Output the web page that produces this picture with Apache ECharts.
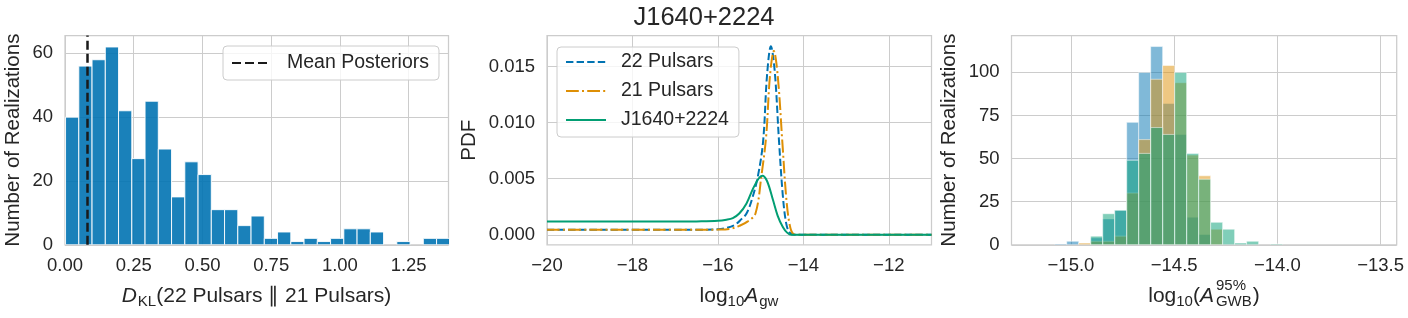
<!DOCTYPE html>
<html><head><meta charset="utf-8">
<script src="https://cdn.jsdelivr.net/npm/echarts@6/dist/echarts.min.js"></script>
<style>html,body{margin:0;padding:0;background:#fff}#c{width:1408px;height:318px}</style>
</head><body><div id="c"></div>
<script>
// ---------- Left panel: KL divergence histogram ----------
const klBinStart = 0.002;
const klBinWidth = 0.0482;
const klCounts = [40,56,58,62,42,27,45,30,15,26,22,11,11,6,9,2,4,1,2,1,2,5,5,4,0,1,0,2,2];
const meanPosterior = 0.08;
const klXTicks = [0, 0.25, 0.5, 0.75, 1.0, 1.25];
const klYTicks = [0, 20, 40, 60];

// ---------- Middle panel: PDFs ----------
const pdf22 = [[-20,0.00045],[-19,0.00045],[-18,0.00045],[-17,0.00045],[-16.5,0.00046],[-16,0.0005],[-15.8,0.00062],[-15.6,0.0009],[-15.45,0.0014],[-15.33,0.0019],[-15.2,0.0032],[-15.06,0.0053],[-14.94,0.0084],[-14.85,0.0142],[-14.76,0.0168],[-14.67,0.0146],[-14.57,0.0084],[-14.48,0.0035],[-14.4,0.001],[-14.32,0.0002],[-14.2,0],[-14,0],[-13.5,0],[-13,0],[-12.5,0],[-12,0],[-11.5,0],[-11,0]];
const pdf21 = [[-20,0.00045],[-19,0.00045],[-18,0.00045],[-17,0.00045],[-16.5,0.00045],[-16,0.00047],[-15.7,0.00055],[-15.5,0.0008],[-15.3,0.0012],[-15.12,0.0019],[-14.98,0.0053],[-14.87,0.0088],[-14.78,0.0142],[-14.69,0.01637],[-14.6,0.0142],[-14.49,0.0082],[-14.4,0.0033],[-14.32,0.0009],[-14.24,0.0001],[-14.1,0],[-13.5,0],[-13,0],[-12.5,0],[-12,0],[-11.5,0],[-11,0]];
const pdfJ = [[-20,0.00118],[-19,0.00118],[-18,0.00118],[-17,0.00118],[-16.5,0.0012],[-16,0.00125],[-15.8,0.00135],[-15.65,0.0015],[-15.5,0.0019],[-15.33,0.0028],[-15.18,0.0041],[-15.05,0.005],[-14.96,0.00527],[-14.85,0.0048],[-14.71,0.0031],[-14.6,0.0017],[-14.48,0.0007],[-14.38,0.0002],[-14.28,0],[-14,0],[-13.5,0],[-13,0],[-12.5,0],[-12,0],[-11.5,0],[-11,0]];
const pdfXTicks = [-20, -18, -16, -14, -12];
const pdfYTicks = [0, 0.005, 0.010, 0.015];

// ---------- Right panel: amplitude upper-limit histograms ----------
const ampBinStart = -15.0786;
const ampBinWidth = 0.0581;
const amp22 = [0.5,2,0,4,15,20,71,100,115,82,64,16,6,0,0,0,0,0,0];
const amp21 = [0,0,1,2,2,5,30,61,96,104,94,52,40,9,0,0,0,0,0];
const ampJ  = [0,0,0,5,18,20,49,53,68,64,100,53,38,13,9,1,2,0,0.5];
const ampXTicks = [-15.0, -14.5, -14.0, -13.5];
const ampYTicks = [0, 25, 50, 75, 100];

const seriesNames = ['22 Pulsars', '21 Pulsars', 'J1640+2224'];
const titleText = 'J1640+2224';

// ---------- styling ----------
const FONT = "'Liberation Sans', Arial, Helvetica, sans-serif";
const TXT = '#262626';
const GRIDC = '#cccccc';
const C_BLUE = '#0173b2', C_ORANGE = '#de8f05', C_GREEN = '#029e73';

function fmt(d){ return v => (v < 0 ? '\u2212' : '') + Math.abs(v).toFixed(d); }
function valAxis(gi, min, max, ticks, digits, extra){
  return Object.assign({
    type:'value', gridIndex:gi, min:min, max:max,
    axisLine:{show:false},
    axisTick:{show:false, customValues:ticks},
    axisLabel:{customValues:ticks, formatter:fmt(digits), color:TXT, fontSize:18.5, fontFamily:FONT, margin:12},
    splitLine:{show:true, lineStyle:{color:GRIDC, width:1}},
    nameTextStyle:{color:TXT, fontSize:20.5, fontFamily:FONT}
  }, extra || {});
}
function hist(start, width, counts){
  return counts.map((c,i) => [start + i*width, start + (i+1)*width, c]);
}
function histRender(color, opacity){
  return function(params, api){
    const h = api.value(2);
    if (!h) return null;
    const p0 = api.coord([api.value(0), 0]);
    const p1 = api.coord([api.value(1), h]);
    return {type:'rect', shape:{x:p0[0], y:p1[1], width:p1[0]-p0[0], height:p0[1]-p1[1]},
      style:{fill:color, stroke:'#ffffff', lineWidth:1, opacity:opacity}};
  };
}

// ---------- x-axis labels with math ----------
const ctx = document.createElement('canvas').getContext('2d');
function measure(t, size, st){ ctx.font = (st||'normal') + ' ' + size + 'px ' + FONT; return ctx.measureText(t).width; }
function buildLabel(segs, cx, cy){
  const MAIN = 21, SMALL = 15;
  const items = []; let x = 0;
  segs.forEach(s => {
    if (s.stack){
      const w = Math.max(...s.stack.map(t => measure(t, SMALL)));
      items.push({t:s.stack[0], x:x+1, size:SMALL, dy:-10});
      items.push({t:s.stack[1], x:x+1, size:SMALL, dy:6});
      x += w + 2;
    } else {
      const size = s.sub ? SMALL : MAIN;
      const st = s.it ? 'italic' : 'normal';
      items.push({t:s.t, x:x, size:size, st:st, dy:s.sub ? 6 : 0});
      x += measure(s.t, size, st) + (s.it ? 1 : 0);
    }
  });
  const x0 = cx - x/2;
  return items.map(it => ({type:'text', x:x0+it.x, y:cy+it.dy, silent:true,
    style:{text:it.t, fontSize:it.size, fontStyle:it.st||'normal', fontFamily:FONT, fill:TXT, align:'left', verticalAlign:'middle'}}));
}
const xlabels = [].concat(
  buildLabel([{t:'D', it:true},{t:'KL', sub:true},{t:'(22 Pulsars \u2225 21 Pulsars)'}], 256.5, 296),
  buildLabel([{t:'log'},{t:'10', sub:true},{t:'A', it:true},{t:'gw', sub:true}], 739, 296),
  buildLabel([{t:'log'},{t:'10', sub:true},{t:'('},{t:'A', it:true},{stack:['95%','GWB']},{t:')'}], 1204, 296)
);

const legendCommon = {
  backgroundColor:'rgba(255,255,255,0.8)', borderColor:GRIDC, borderWidth:1, borderRadius:4,
  itemStyle:{opacity:0, color:'transparent', borderWidth:0}
};

const chart = echarts.init(document.getElementById('c'), null, {renderer:'canvas'});
chart.setOption({
  animation:false,
  backgroundColor:'#ffffff',
  textStyle:{fontFamily:FONT},
  title:{text:titleText, left:'center', top:0, textStyle:{fontSize:25.5, fontWeight:'normal', color:TXT, fontFamily:FONT}},
  grid:[
    {left:65, top:35.5, width:383.5, height:209.25, show:true, borderColor:GRIDC, borderWidth:1.25, backgroundColor:'transparent'},
    {left:547, top:35.5, width:384.5, height:209.25, show:true, borderColor:GRIDC, borderWidth:1.25, backgroundColor:'transparent'},
    {left:1011.5, top:35.5, width:385.2, height:209.25, show:true, borderColor:GRIDC, borderWidth:1.25, backgroundColor:'transparent'}
  ],
  xAxis:[
    valAxis(0, 0, 1.395, klXTicks, 2),
    valAxis(1, -20, -11, pdfXTicks, 0),
    valAxis(2, -15.288, -13.422, ampXTicks, 1)
  ],
  yAxis:[
    valAxis(0, 0, 65.6, klYTicks, 0, {name:'Number of Realizations', nameLocation:'middle', nameGap:41}),
    valAxis(1, -0.00088, 0.01776, pdfYTicks, 3, {name:'PDF', nameLocation:'middle', nameGap:67}),
    valAxis(2, 0, 121.4, ampYTicks, 0, {name:'Number of Realizations', nameLocation:'middle', nameGap:52})
  ],
  legend:[
    Object.assign({data:['Mean Posteriors'], left:223, top:46, itemWidth:39, itemHeight:10, padding:[7,10,7,8],
      textStyle:{color:TXT, fontSize:19.5, fontFamily:FONT, padding:[0,0,0,11]}}, legendCommon),
    Object.assign({data:seriesNames, orient:'vertical', left:557, top:47, itemWidth:40, itemHeight:12, itemGap:9, padding:[5,10,7,8],
      textStyle:{color:TXT, fontSize:19.5, fontFamily:FONT, padding:[0,0,0,10]}}, legendCommon)
  ],
  graphic: xlabels,
  series:[
    {type:'custom', name:'KL', xAxisIndex:0, yAxisIndex:0, clip:true, renderItem:histRender(C_BLUE, 0.9),
      encode:{x:[0,1], y:2}, data:hist(klBinStart, klBinWidth, klCounts)},
    {type:'line', name:'Mean Posteriors', xAxisIndex:0, yAxisIndex:0, data:[], symbol:'none',
      lineStyle:{color:'#1a1a1a', width:2.5, type:[9,4]},
      markLine:{silent:true, symbol:['none','none'], label:{show:false},
        lineStyle:{color:'#1a1a1a', width:2.5, type:[9,4]}, data:[{xAxis:meanPosterior}]}},
    {type:'line', name:seriesNames[0], xAxisIndex:1, yAxisIndex:1, data:pdf22, symbol:'none', showSymbol:false, smooth:0.35,
      lineStyle:{color:C_BLUE, width:2, type:[7.4,3.2]}, itemStyle:{color:C_BLUE}, z:3},
    {type:'line', name:seriesNames[1], xAxisIndex:1, yAxisIndex:1, data:pdf21, symbol:'none', showSymbol:false, smooth:0.35,
      lineStyle:{color:C_ORANGE, width:2, type:[12.8,3.2,2,3.2]}, itemStyle:{color:C_ORANGE}, z:3},
    {type:'line', name:seriesNames[2], xAxisIndex:1, yAxisIndex:1, data:pdfJ, symbol:'none', showSymbol:false, smooth:0.35,
      lineStyle:{color:C_GREEN, width:2}, itemStyle:{color:C_GREEN}, z:3},
    {type:'custom', name:'h22', xAxisIndex:2, yAxisIndex:2, clip:true, renderItem:histRender(C_BLUE, 0.5),
      encode:{x:[0,1], y:2}, data:hist(ampBinStart, ampBinWidth, amp22)},
    {type:'custom', name:'h21', xAxisIndex:2, yAxisIndex:2, clip:true, renderItem:histRender(C_ORANGE, 0.5),
      encode:{x:[0,1], y:2}, data:hist(ampBinStart, ampBinWidth, amp21)},
    {type:'custom', name:'hJ', xAxisIndex:2, yAxisIndex:2, clip:true, renderItem:histRender(C_GREEN, 0.5),
      encode:{x:[0,1], y:2}, data:hist(ampBinStart, ampBinWidth, ampJ)}
  ]
});
</script></body></html>
